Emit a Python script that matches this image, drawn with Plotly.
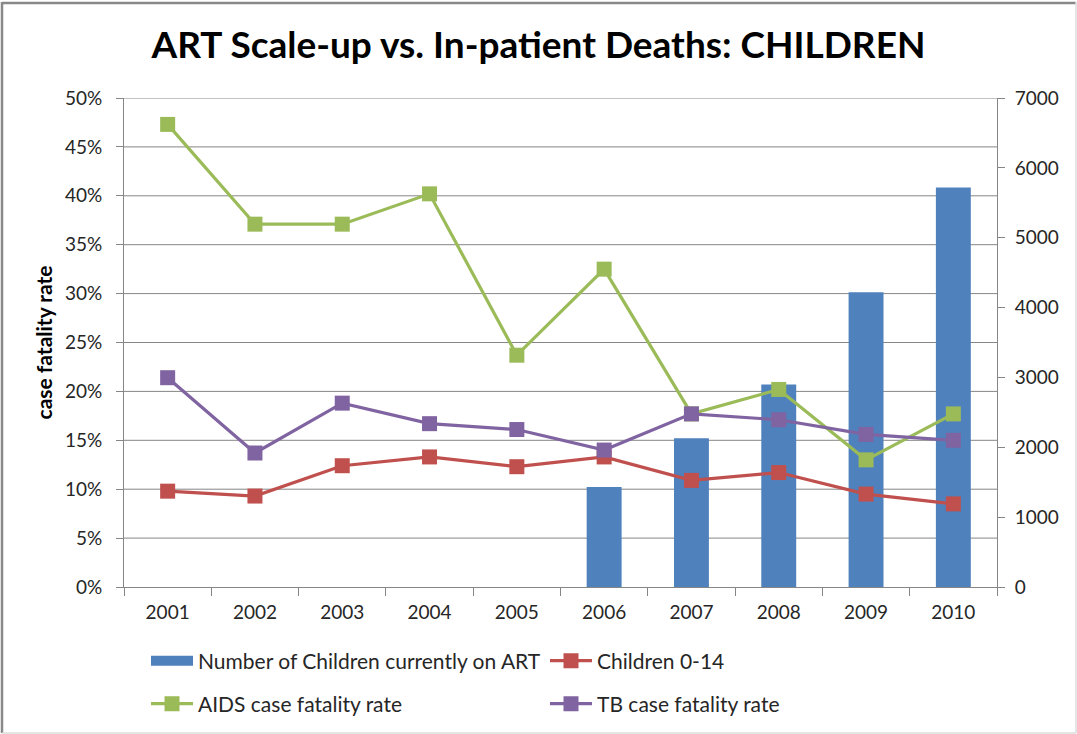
import plotly.graph_objects as go

# ---------------------------------------------------------------------
# Data
# ---------------------------------------------------------------------
years = ["2001", "2002", "2003", "2004", "2005", "2006", "2007", "2008", "2009", "2010"]

children_on_art = [None, None, None, None, None, 1430, 2130, 2900, 4220, 5720]

children_0_14 = [0.098, 0.093, 0.124, 0.133, 0.123, 0.133, 0.109, 0.117, 0.095, 0.085]
aids_cfr = [0.473, 0.371, 0.371, 0.402, 0.237, 0.325, 0.177, 0.202, 0.130, 0.177]
tb_cfr = [0.214, 0.137, 0.188, 0.167, 0.161, 0.140, 0.177, 0.171, 0.156, 0.150]

left_ticks = [0, 0.05, 0.10, 0.15, 0.20, 0.25, 0.30, 0.35, 0.40, 0.45, 0.50]
right_ticks = [0, 1000, 2000, 3000, 4000, 5000, 6000, 7000]

# ---------------------------------------------------------------------
# Styling
# ---------------------------------------------------------------------
W, H = 1077, 734
ML, MR, MT, MB = 124, 80, 98, 147
FONT = "Lato, 'Open Sans', sans-serif"
TEXT = "#262626"
AXIS = "#868686"
BLUE = "#4F81BD"

pw = W - ML - MR
ph = H - MT - MB

fig = go.Figure()

# bars sit on the primary (right-hand) axis so the lines overlay them
fig.add_trace(go.Bar(
    x=years, y=children_on_art,
    name="Number of Children currently on ART",
    marker=dict(color=BLUE, line=dict(width=0)),
    width=0.4, yaxis="y", showlegend=False,
))
# legend swatch for the bars: a wide block like Excel's
fig.add_trace(go.Scatter(
    x=[None], y=[None], mode="lines", name="Number of Children currently on ART",
    line=dict(color=BLUE, width=10), yaxis="y", legend="legend",
))


def add_line(values, name, color, legend):
    fig.add_trace(go.Scatter(
        x=years, y=values, name=name, mode="lines+markers",
        line=dict(color=color, width=3.2),
        marker=dict(symbol="square", size=15, color=color),
        yaxis="y2", legend=legend,
    ))


add_line(children_0_14, "Children 0-14", "#C0504D", "legend")
add_line(aids_cfr, "AIDS case fatality rate", "#9BBB59", "legend2")
add_line(tb_cfr, "TB case fatality rate", "#8064A2", "legend2")

legend_common = dict(
    orientation="h", x=(146 - ML) / pw, xanchor="left", yanchor="middle",
    entrywidth=342, entrywidthmode="pixels", bgcolor="rgba(0,0,0,0)",
    font=dict(size=21, color=TEXT), itemwidth=42,
)

# horizontal gridlines beneath every trace (Excel style)
grid = [dict(type="line", xref="paper", yref="y2", x0=0, x1=1, y0=v, y1=v,
             line=dict(color=AXIS, width=1), layer="below")
        for v in left_ticks[1:]]

# chart frame: dark top/left edges, pale right/bottom edges
px_x = lambda p: (p - ML) / pw
px_y = lambda p: (H - MB - p) / ph
frame = [
    dict(type="line", xref="paper", yref="paper", x0=px_x(2), x1=px_x(1076),
         y0=px_y(3), y1=px_y(3), line=dict(color="#888888", width=2.5)),
    dict(type="line", xref="paper", yref="paper", x0=px_x(2), x1=px_x(2),
         y0=px_y(2), y1=px_y(733), line=dict(color="#888888", width=2.5)),
    dict(type="line", xref="paper", yref="paper", x0=px_x(1076), x1=px_x(1076),
         y0=px_y(2), y1=px_y(733), line=dict(color="#DDDDDD", width=1.5)),
    dict(type="line", xref="paper", yref="paper", x0=px_x(2), x1=px_x(1076),
         y0=px_y(733), y1=px_y(733), line=dict(color="#DDDDDD", width=1.5)),
]

fig.update_layout(
    width=W, height=H,
    margin=dict(l=ML, r=MR, t=MT, b=MB, autoexpand=False),
    paper_bgcolor="white", plot_bgcolor="white",
    font=dict(family=FONT, size=18, color=TEXT),
    title=dict(text="<b>ART Scale-up vs. In-patient Deaths: CHILDREN</b>",
               x=0.5, xanchor="center", y=1 - 45 / H, yanchor="middle",
               font=dict(size=37, color="black")),
    showlegend=True,
    legend=dict(legend_common, y=-(661 - MT - ph) / ph),
    legend2=dict(legend_common, y=-(704 - MT - ph) / ph),
    xaxis=dict(
        type="category", range=[-0.5, len(years) - 0.5],
        showgrid=False, showline=True, linecolor=AXIS, linewidth=1,
        ticks="outside", tickson="boundaries", ticklen=8, tickcolor=AXIS,
        tickfont=dict(size=19, color=TEXT), ticklabelstandoff=8,
    ),
    yaxis=dict(
        side="right", range=[0, 7000], tickvals=right_ticks,
        showgrid=False, showline=True, linecolor=AXIS, ticks="outside",
        ticklen=7, tickcolor=AXIS, tickfont=dict(size=19, color=TEXT), zeroline=False,
        ticklabelstandoff=6,
    ),
    yaxis2=dict(
        overlaying="y", side="left", range=[0, 0.5], tickvals=left_ticks,
        tickformat=".0%", showgrid=False,
        showline=True, linecolor=AXIS, ticks="outside", ticklen=7, tickcolor=AXIS,
        tickfont=dict(size=19, color=TEXT), zeroline=False, ticklabelstandoff=10,
        title=dict(text="<b>case fatality rate</b>", font=dict(size=21, color="black"),
                   standoff=6),
    ),
    shapes=grid + frame,
)

# drop the page's default body margin so the chart fills the window exactly
fig.write_html("out.html", config={"displayModeBar": False},
               post_script="document.body.style.margin='0';")
